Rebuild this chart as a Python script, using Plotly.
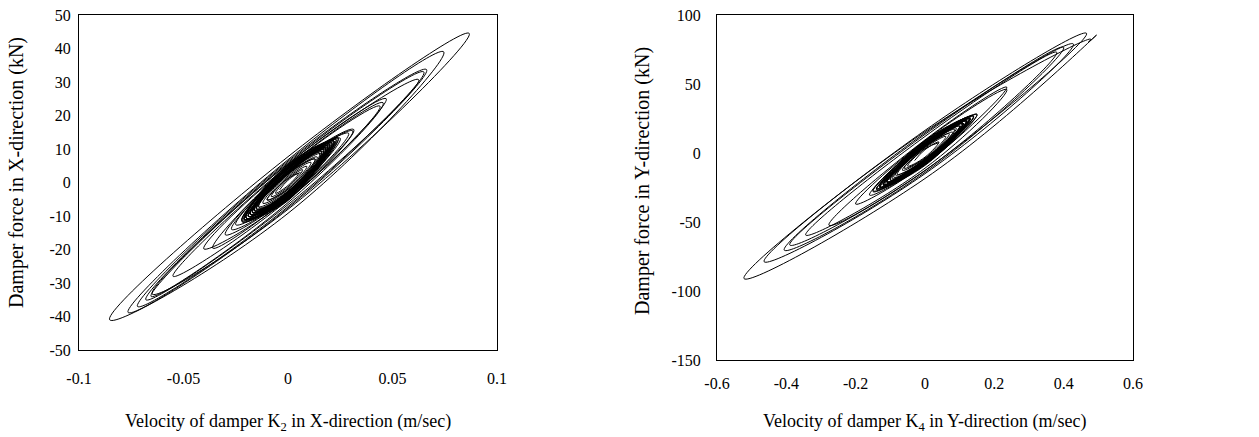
import plotly.graph_objects as go

# Damper K2 (X-direction): velocity peaks alternating with zero-velocity crossings
vel_k2 = [
    0.006, 0, -0.010, 0, 0.013, 0, -0.016, 0, 0.019, 0, -0.018, 0,
    0.022, 0, -0.021, 0, 0.024, 0, -0.022, 0, 0.0315, 0, -0.0403, 0,
    0.047, 0, -0.065, 0, 0.0867, 0, -0.0853, 0, 0.0745, 0, -0.0765, 0,
    0.0663, 0, -0.072, 0, 0.065, 0, -0.068, 0, 0.0625, 0, -0.0655, 0,
    0.0455, 0, -0.055, 0, 0.044, 0, -0.036, 0, 0.031, 0, -0.030, 0,
    0.029, 0, -0.027, 0, 0.023, 0, -0.025, 0, 0.025, 0, -0.022, 0,
    0.022, 0, -0.020, 0, 0.024, 0, -0.021, 0, 0.020, 0, -0.022, 0,
    0.023, 0, -0.019, 0, 0.021, 0, -0.020, 0, 0.019, 0, -0.021, 0,
    0.022, 0, -0.018, 0, 0.020, 0, -0.019, 0, 0.018, 0, -0.020, 0,
    0.021, 0, -0.017, 0, 0.019, 0, -0.018, 0, 0.017, 0, -0.019, 0,
    0.020, 0, -0.016, 0, 0.018, 0, -0.017, 0, 0.016, 0, -0.018, 0,
    0.019, 0, -0.015, 0, 0.017, 0, -0.016, 0, 0.015, 0, -0.017, 0,
    0.018, 0, -0.014, 0, 0.016, 0, -0.015, 0,
    0.021, 0, -0.020, 0, 0.022, 0, -0.021, 0, 0.019, 0, -0.019, 0,
    0.020, 0, -0.018, 0, 0.018, 0, -0.017, 0, 0.017, 0, -0.016, 0,
    0.016, 0, -0.015, 0, 0.014, 0, -0.014, 0, 0.013, 0, -0.012, 0,
    0.011, 0, -0.010, 0, 0.009, 0, -0.008, 0, 0.007, 0, -0.006, 0,
    0.005, 0, -0.004,
]
force_k2 = [
    3.0, 1.2, -5.2, -2.0, 7.0, 2.6, -8.2, -3.2, 10.2, 3.6, -9.4, -3.8,
    12.4, 4.2, -11.0, -4.4, 13.2, 4.6, -11.6, -4.8, 15.8, 4.5, -19.8, -5.0,
    25.0, 5.6, -33.3, -8.0, 44.5, 7.7, -41.0, -9.2, 39.0, 6.8, -38.8, -7.6,
    33.7, 6.4, -37.0, -7.2, 33.0, 6.0, -35.0, -6.6, 30.7, 5.6, -34.0, -6.0,
    23.8, 5.0, -28.0, -5.2, 22.8, 4.6, -19.6, -4.6, 15.4, 4.2, -15.6, -4.4,
    14.7, 4.0, -14.0, -4.2, 12.8, 4.0, -12.6, -4.0, 13.2, 4.2, -11.3, -4.4,
    12.4, 5.2, -10.6, -5.0, 13.4, 3.0, -11.1, -2.8, 11.4, 4.6, -11.7, -4.4,
    12.9, 2.6, -10.1, -3.2, 11.9, 5.4, -10.6, -5.4, 10.9, 3.4, -11.1, -2.6,
    12.4, 4.0, -9.5, -4.0, 11.4, 2.8, -10.1, -3.6, 10.3, 5.0, -10.6, -4.8,
    11.9, 3.6, -9.0, -2.9, 10.9, 4.4, -9.5, -4.6, 9.8, 2.5, -10.1, -3.3,
    11.4, 5.2, -8.5, -5.2, 10.3, 3.2, -9.0, -2.7, 9.3, 4.2, -9.5, -3.8,
    10.9, 2.9, -8.0, -3.4, 9.8, 4.8, -8.5, -4.5, 8.8, 3.5, -9.0, -3.0,
    10.3, 3.0, -7.4, -4.1, 9.3, 4.0, -8.0, -3.5,
    11.6, 4.6, -10.6, -4.2, 12.0, 4.4, -11.0, -3.8, 10.4, 4.0, -10.0, -4.0,
    11.0, 3.6, -9.4, -3.6, 9.8, 3.4, -8.8, -3.4, 9.2, 3.2, -8.4, -3.2,
    8.6, 3.0, -7.8, -2.8, 7.6, 2.6, -7.2, -2.5, 7.0, 2.3, -6.2, -2.1,
    6.0, 1.9, -5.2, -1.7, 4.8, 1.5, -4.2, -1.3, 3.8, 1.1, -3.2, -0.9,
    2.7, 0.7, -2.2,
]

# Damper K4 (Y-direction)
vel_k4 = [
    0.04, 0, -0.06, 0, 0.08, 0, -0.085, 0, 0.10, 0, -0.11, 0,
    0.12, 0, -0.13, 0, 0.13, 0, -0.14, 0, 0.236, 0, -0.277, 0,
    0.466, 0, -0.522, 0, 0.495, 0.472, 0.478, 0, -0.464, 0, 0.428, 0, -0.406, 0,
    0.40, 0, -0.39, 0, 0.38, 0, -0.344, 0, 0.236, 0, -0.20, 0,
    0.15, 0, -0.16, 0, 0.14, 0, -0.15, 0, 0.13, 0, -0.12, 0,
    0.125, 0, -0.13, 0,
    0.14, 0, -0.13, 0, 0.15, 0, -0.14, 0, 0.12, 0, -0.15, 0,
    0.13, 0, -0.12, 0, 0.14, 0, -0.13, 0, 0.12, 0, -0.14, 0,
    0.13, 0, -0.11, 0, 0.11, 0, -0.12, 0, 0.12, 0, -0.13, 0,
    0.13, 0, -0.11, 0, 0.11, 0, -0.12, 0, 0.10, 0, -0.11, 0,
    0.12, 0, -0.10, 0, 0.11, 0, -0.11, 0, 0.10, 0, -0.12, 0,
    0.11, 0, -0.09, 0,
    0.11, 0, -0.115, 0, 0.12, 0, -0.10, 0,
    0.105, 0, -0.11, 0, 0.09, 0, -0.095, 0, 0.085, 0, -0.08, 0,
    0.07, 0, -0.065, 0, 0.06, 0, -0.05, 0, 0.04, 0, -0.03,
]
force_k4 = [
    7.5, 3.0, -11.0, -3.8, 15.0, 4.6, -16.0, -5.2, 19.5, 5.8, -21.0, -6.2,
    23.5, 6.6, -25.0, -7.0, 26.0, 7.2, -26.5, -8.0, 47.7, 9.5, -52.3, -12.6,
    86.7, 16.4, -91.0, -18.5, 85.5, 80.5, 82.5, 15.5, -78.8, -15.0, 79.0, 14.5, -70.4, -14.0,
    76.6, 13.5, -66.7, -12.8, 73.0, 12.0, -59.5, -11.0, 46.0, 9.0, -37.0, -8.0,
    28.0, 7.5, -30.5, -7.8, 27.0, 7.6, -28.0, -7.6, 25.0, 7.4, -23.5, -7.2,
    24.5, 7.0, -25.5, -7.0,
    26.5, 8.8, -24.5, -8.4, 28.0, 5.0, -26.0, -4.8, 23.0, 7.6, -27.5, -7.4,
    25.0, 4.4, -23.0, -5.4, 26.5, 9.0, -24.5, -9.0, 23.0, 5.8, -26.0, -4.4,
    25.0, 6.8, -21.0, -6.8, 21.5, 4.8, -23.0, -6.0, 23.0, 8.2, -24.5, -8.0,
    25.0, 6.0, -21.0, -5.0, 21.5, 7.4, -23.0, -7.6, 19.5, 4.2, -21.0, -5.6,
    23.0, 8.6, -19.5, -8.6, 21.5, 5.4, -21.0, -4.6, 19.5, 7.0, -23.0, -6.4,
    21.5, 5.0, -17.5, -5.8,
    21.5, 6.8, -22.5, -6.6, 24.0, 6.4, -19.5, -6.2,
    21.0, 6.0, -21.5, -5.8, 18.0, 5.6, -18.5, -5.4, 17.0, 5.0, -15.5, -4.6,
    14.0, 4.2, -12.5, -3.8, 12.0, 3.4, -9.5, -3.0, 8.0, 2.4, -5.5,
]

x_ticks_k2 = [-0.1, -0.05, 0, 0.05, 0.1]
x_labels_k2 = ["-0.1", "-0.05", "0", "0.05", "0.1"]
y_ticks_k2 = [-50, -40, -30, -20, -10, 0, 10, 20, 30, 40, 50]
x_ticks_k4 = [-0.6, -0.4, -0.2, 0, 0.2, 0.4, 0.6]
x_labels_k4 = ["-0.6", "-0.4", "-0.2", "0", "0.2", "0.4", "0.6"]
y_ticks_k4 = [-150, -100, -50, 0, 50, 100]

SERIF = "Liberation Serif, Times New Roman, serif"
TICK_FONT = dict(family=SERIF, size=16, color="black")
W, H = 1259, 437

fig = go.Figure()
line_style = dict(color="black", width=1, shape="spline", smoothing=1.3)
fig.add_trace(go.Scatter(x=vel_k2, y=force_k2, mode="lines", line=line_style,
                         xaxis="x", yaxis="y", showlegend=False, hoverinfo="skip"))
fig.add_trace(go.Scatter(x=vel_k4, y=force_k4, mode="lines", line=line_style,
                         xaxis="x2", yaxis="y2", showlegend=False, hoverinfo="skip"))


def axis(domain, rng, tickvals, ticktext, ticklen, anchor):
    return dict(
        domain=domain, range=rng, tickvals=tickvals,
        ticktext=ticktext if ticktext else [str(v) for v in tickvals],
        showgrid=False, zeroline=False, showline=True, linecolor="black",
        linewidth=1, mirror=True, ticks="outside", ticklen=ticklen,
        tickcolor="rgba(0,0,0,0)", tickfont=TICK_FONT, anchor=anchor,
        automargin=False, fixedrange=True,
    )


fig.update_layout(
    template="none",
    width=W, height=H,
    margin=dict(l=0, r=0, t=0, b=0, autoexpand=False),
    paper_bgcolor="white", plot_bgcolor="white",
    font=TICK_FONT,
    showlegend=False,
    xaxis=axis([79 / W, 497 / W], [-0.1, 0.1], x_ticks_k2, x_labels_k2, 14, "y"),
    yaxis=axis([1 - 350 / H, 1 - 15 / H], [-50, 50], y_ticks_k2, None, 4, "x"),
    xaxis2=axis([717 / W, 1133 / W], [-0.6, 0.6], x_ticks_k4, x_labels_k4, 9, "y2"),
    yaxis2=axis([1 - 360 / H, 1 - 15 / H], [-150, 100], y_ticks_k4, None, 12, "x2"),
)

titles = [
    ("Velocity of damper K<sub>2</sub> in X-direction (m/sec)", 288, 422, 0, 18),
    ("Damper force in X-direction (kN)", 17, 173, -90, 20),
    ("Velocity of damper K<sub>4</sub> in Y-direction (m/sec)", 925, 422, 0, 18),
    ("Damper force in Y-direction (kN)", 642, 181, -90, 20),
]
for text, px, py, angle, size in titles:
    fig.add_annotation(text=text, x=px / W, y=1 - py / H, xref="paper", yref="paper",
                       xanchor="center", yanchor="middle", showarrow=False,
                       textangle=angle, font=dict(family=SERIF, size=size, color="black"))

fig.write_html("out.html", include_plotlyjs=True)
